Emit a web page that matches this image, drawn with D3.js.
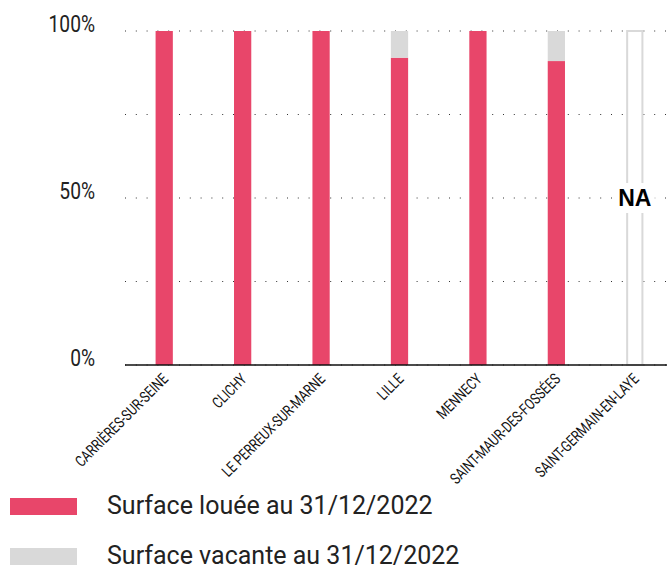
<!DOCTYPE html>
<html>
<head>
<meta charset="utf-8">
<script src="https://cdn.jsdelivr.net/npm/d3@7"></script>
<style>
  body { margin: 0; background: #fff; }
  svg { display: block; }
</style>
</head>
<body>
<svg></svg>
<script>
var communes = ["CARRIÈRES-SUR-SEINE", "CLICHY", "LE PERREUX-SUR-MARNE", "LILLE", "MENNECY", "SAINT-MAUR-DES-FOSSÉES", "SAINT-GERMAIN-EN-LAYE"];
var louee = [100, 100, 100, 92, 100, 91, null];
var vacante = [0, 0, 0, 8, 0, 9, null];
var yTicks = [0, 25, 50, 75, 100];
var yLabels = [0, 50, 100];
var legendLabels = ["Surface louée au 31/12/2022", "Surface vacante au 31/12/2022"];

var svgWidth = 667,
  svgHeight = 569;

var pink = "#e8466a",
  grey = "#d9d9d9";

var svg = d3.select("svg").attr("width", svgWidth).attr("height", svgHeight);

var x = d3.scaleBand().domain(communes).range([125, 674]).paddingInner(0.78).paddingOuter(0.39);
var y = d3.scaleLinear().domain([0, 100]).range([365, 31]);

// dotted grid
svg.selectAll(".grid")
  .data(yTicks)
  .enter()
  .append("line")
  .attr("x1", 125)
  .attr("x2", svgWidth)
  .attr("y1", function (d) { return y(d); })
  .attr("y2", function (d) { return y(d); })
  .attr("stroke", "#333")
  .attr("stroke-width", 1)
  .attr("stroke-dasharray", "1,9.8");

// y labels, baseline on the gridline (condensed look by horizontal scaling)
svg.selectAll(".ylab")
  .data(yLabels)
  .enter()
  .append("text")
  .attr("transform", function (d) { return "translate(95," + (y(d) + 1) + ") scale(0.8,1)"; })
  .attr("text-anchor", "end")
  .style("font-family", "Roboto, sans-serif")
  .style("font-size", "24px")
  .attr("fill", "#222")
  .text(function (d) { return d + "%"; });

var rows = communes.map(function (c, i) {
  return { name: c, louee: louee[i], vacante: vacante[i] };
});

var bw = x.bandwidth();

// rented part
svg.selectAll(".louee")
  .data(rows.filter(function (d) { return d.louee != null; }))
  .enter()
  .append("rect")
  .attr("x", function (d) { return x(d.name); })
  .attr("width", bw)
  .attr("y", function (d) { return y(d.louee); })
  .attr("height", function (d) { return y(0) - y(d.louee); })
  .attr("fill", pink);

// vacant part, stacked on top
svg.selectAll(".vacante")
  .data(rows.filter(function (d) { return d.vacante; }))
  .enter()
  .append("rect")
  .attr("x", function (d) { return x(d.name); })
  .attr("width", bw)
  .attr("y", function (d) { return y(d.louee + d.vacante); })
  .attr("height", function (d) { return y(d.louee) - y(d.louee + d.vacante); })
  .attr("fill", grey);

// missing data: outlined bar with NA
var na = rows.filter(function (d) { return d.louee == null; });
svg.selectAll(".na")
  .data(na)
  .enter()
  .append("rect")
  .attr("x", function (d) { return x(d.name) + 1; })
  .attr("width", bw - 2)
  .attr("y", y(100))
  .attr("height", y(0) - y(100))
  .attr("fill", "#fff")
  .attr("stroke", grey)
  .attr("stroke-width", 2);

svg.selectAll(".nabg")
  .data(na)
  .enter()
  .append("rect")
  .attr("x", function (d) { return x(d.name) + bw / 2 - 20; })
  .attr("width", 40)
  .attr("y", y(50) - 15)
  .attr("height", 30)
  .attr("fill", "#fff");

svg.selectAll(".natext")
  .data(na)
  .enter()
  .append("text")
  .attr("x", function (d) { return x(d.name) + bw / 2; })
  .attr("y", y(50) + 8)
  .attr("text-anchor", "middle")
  .style("font-family", "'Liberation Sans', Arial, sans-serif")
  .style("font-weight", "bold")
  .style("font-size", "23px")
  .attr("fill", "#000")
  .text("NA");

// x axis
svg.append("line")
  .attr("x1", 125)
  .attr("x2", svgWidth)
  .attr("y1", y(0))
  .attr("y2", y(0))
  .attr("stroke", "#111")
  .attr("stroke-width", 1.5);

svg.selectAll(".xlab")
  .data(communes)
  .enter()
  .append("text")
  .attr("transform", function (d) {
    return "translate(" + (x(d) + bw / 2 + 5) + ",380) rotate(-45) scale(0.78,1)";
  })
  .attr("text-anchor", "end")
  .style("font-family", "Roboto, sans-serif")
  .style("font-size", "15.5px")
  .attr("fill", "#111")
  .text(function (d) { return d; });

// legend
var legend = svg.selectAll(".legend")
  .data(legendLabels)
  .enter()
  .append("g")
  .attr("transform", function (d, i) { return "translate(0," + (498 + i * 50) + ")"; });

legend.append("rect")
  .attr("x", 10)
  .attr("width", 67)
  .attr("height", 17)
  .attr("fill", function (d, i) { return i === 0 ? pink : grey; });

legend.append("text")
  .attr("x", 107)
  .attr("y", 16)
  .style("font-family", "Roboto, sans-serif")
  .style("font-size", "25px")
  .attr("fill", "#222")
  .text(function (d) { return d; });
</script>
</body>
</html>
